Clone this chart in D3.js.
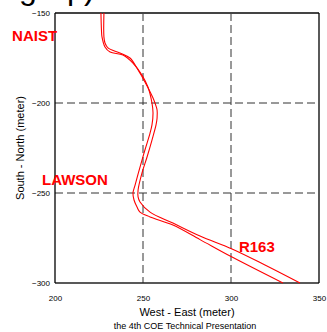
<!DOCTYPE html>
<html>
<head>
<meta charset="utf-8">
<script src="https://cdn.jsdelivr.net/npm/d3@7"></script>
<style>
  body { margin: 0; background: #fff; }
  text { font-family: "Liberation Sans", Arial, sans-serif; }
</style>
</head>
<body>
<div class="chart"></div>
<script>
// road edges, [west-east, south-north] in meters
const edgeWest = [
  [226.1, -150], [226.4, -159.4], [226.7, -163.3], [228.4, -168.9], [231.3, -171.7],
  [238.6, -173.3], [244.3, -177.8], [249.4, -184.4], [252.8, -191.1], [255.1, -200],
  [255.7, -205.6], [255.1, -212.2], [254.0, -216.7], [251.1, -226.1], [248.3, -235.6],
  [245.5, -245.6], [244.3, -250], [244.9, -253.9], [246.6, -257.8], [248.3, -260.6],
  [254.0, -263.3], [267.0, -267.8], [282.4, -275.9], [300.6, -285.6], [329.5, -300]
];
const edgeEast = [
  [227.8, -150], [227.8, -163.3], [228.4, -166.7], [230.1, -169.4], [236.9, -172.2],
  [242.6, -175], [247.2, -181.7], [251.1, -188.3], [255.7, -197.2], [256.8, -200],
  [258.0, -203.9], [258.0, -208.3], [257.4, -212.2], [255.1, -220.6], [252.3, -230],
  [249.4, -238.9], [247.2, -248.3], [247.2, -252.2], [248.3, -255], [254.0, -260.6],
  [267.0, -266.7], [282.4, -273.9], [300.6, -281.1], [319.3, -290], [339.2, -300]
];
const xTicks = [200, 250, 300, 350];
const yTicks = [-150, -200, -250, -300];
const places = [
  { name: "NAIST", x: 175.6, y: -165.6 },
  { name: "LAWSON", x: 192.6, y: -245.6 },
  { name: "R163", x: 304.5, y: -282.8 }
];

const width = 327, height = 332;
const margin = { top: 13, right: 8, bottom: 49, left: 55 };
const w = width - margin.left - margin.right;
const h = height - margin.top - margin.bottom;

const xScale = d3.scaleLinear().domain([200, 350]).range([0, w]);
const yScale = d3.scaleLinear().domain([-300, -150]).range([h, 0]);

const svg = d3.select(".chart")
  .append("svg")
  .attr("width", width)
  .attr("height", height);

// slide title, cropped at the top edge like in the source
svg.append("text")
  .attr("y", -1)
  .style("font-size", "32px")
  .selectAll("tspan")
  .data([["g", 19], ["p", 67], [")", 84]])
  .join("tspan")
  .attr("x", d => d[1])
  .text(d => d[0]);

const g = svg.append("g")
  .attr("transform", `translate(${margin.left},${margin.top})`);

// dashed grid
g.selectAll(".vgrid")
  .data(xTicks.slice(1, -1))
  .join("line")
  .attr("x1", d => xScale(d)).attr("x2", d => xScale(d))
  .attr("y1", 0).attr("y2", h)
  .attr("stroke", "#333").attr("stroke-dasharray", "8,4");

g.selectAll(".hgrid")
  .data(yTicks.slice(1, -1))
  .join("line")
  .attr("x1", 0).attr("x2", w)
  .attr("y1", d => yScale(d)).attr("y2", d => yScale(d))
  .attr("stroke", "#333").attr("stroke-dasharray", "8,4");

// frame
g.append("line").attr("x1", 0).attr("x2", w).attr("y1", 0).attr("y2", 0)
  .attr("stroke", "#444").attr("stroke-width", 2);
g.append("line").attr("x1", 0).attr("x2", w).attr("y1", h).attr("y2", h)
  .attr("stroke", "#222").attr("stroke-width", 1.5);
g.append("line").attr("x1", 0).attr("x2", 0).attr("y1", 0).attr("y2", h)
  .attr("stroke", "#000").attr("stroke-width", 1.3);
g.append("line").attr("x1", w).attr("x2", w).attr("y1", 0).attr("y2", h)
  .attr("stroke", "#000").attr("stroke-width", 1.3);

const xAxis = d3.axisBottom(xScale).tickValues(xTicks).tickSize(0).tickPadding(12);
const yAxis = d3.axisLeft(yScale).tickValues(yTicks).tickSize(0).tickPadding(5);

g.append("g")
  .attr("transform", `translate(0,${h})`)
  .call(xAxis)
  .call(a => a.select(".domain").remove())
  .selectAll("text")
  .style("font-size", "8px")
  .attr("fill", "#000");

g.append("g")
  .call(yAxis)
  .call(a => a.select(".domain").remove())
  .selectAll("text")
  .style("font-size", "8px")
  .attr("fill", "#000");

// road
const line = d3.line()
  .x(d => xScale(d[0]))
  .y(d => yScale(d[1]))
  .curve(d3.curveCatmullRom);

g.selectAll(".edge")
  .data([edgeWest, edgeEast])
  .join("path")
  .attr("d", line)
  .attr("fill", "none")
  .attr("stroke", "#ff0000")
  .attr("stroke-width", 1.1);

g.selectAll(".place")
  .data(places)
  .join("text")
  .attr("x", d => xScale(d.x))
  .attr("y", d => yScale(d.y))
  .style("font-size", "15px")
  .style("font-weight", "bold")
  .attr("fill", "#ff0000")
  .text(d => d.name);

svg.append("text")
  .attr("x", 187)
  .attr("y", 316)
  .attr("text-anchor", "middle")
  .style("font-size", "11px")
  .text("West - East (meter)");

svg.append("text")
  .attr("transform", "rotate(-90)")
  .attr("x", -148)
  .attr("y", 24)
  .attr("text-anchor", "middle")
  .style("font-size", "11px")
  .text("South - North (meter)");

svg.append("text")
  .attr("x", 185)
  .attr("y", 329)
  .attr("text-anchor", "middle")
  .style("font-size", "9px")
  .text("the 4th COE Technical Presentation");
</script>
</body>
</html>
